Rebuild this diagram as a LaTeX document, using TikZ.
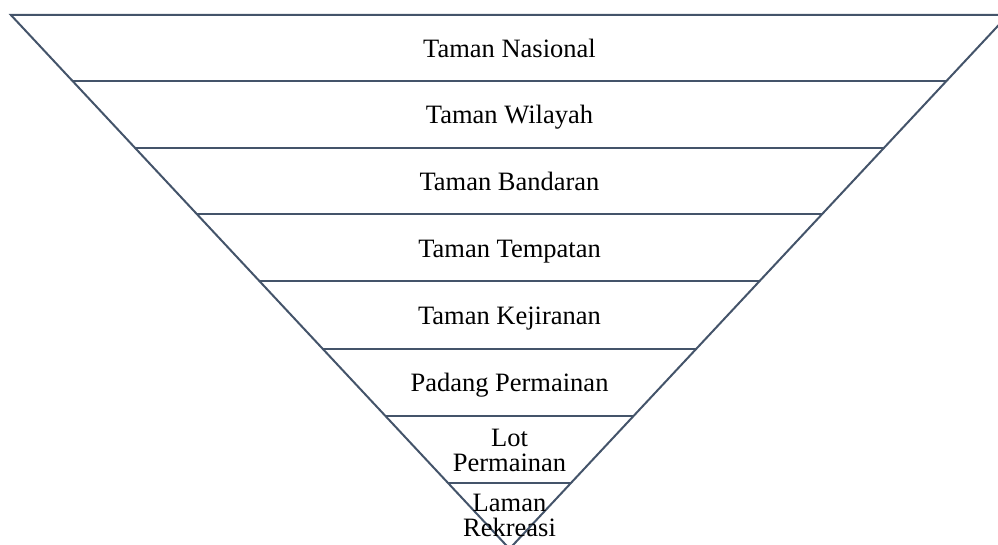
\documentclass[tikz,border=0pt]{standalone}
\usepackage{fontspec}
\setmainfont{Liberation Serif}
\definecolor{tierGrey}{RGB}{68, 84, 106}

\begin{document}
\begin{tikzpicture}[x=0.5pt, y=-0.5pt,
    tierline/.style={draw=tierGrey, line width=1pt},
    tierlabel/.style={font=\fontsize{13.25}{12.5}\selectfont, align=center, inner sep=0pt, anchor=base}]
  \useasboundingbox (0,0) rectangle (998,545);
  \clip (0,0) rectangle (998,545);
  % outer funnel, apex just below the page edge
  \draw[tierline, line join=miter] (10.9,15) -- (1008.1,15) -- (509.5,548.8) -- cycle;
  % tier separators: half width = (548.8 - y) * 0.934
  \foreach \y in {81,148,214,281,349,416,483}
    \draw[tierline] ({509.5-(548.8-\y)*0.934},\y) -- ({509.5+(548.8-\y)*0.934},\y);
  % labels, placed on their (last) baselines
  \node[tierlabel] (nasional) at (509.5,58) {Taman Nasional};
  \node[tierlabel] (wilayah) at (509.5,124) {Taman Wilayah};
  \node[tierlabel] (bandaran) at (509.5,190.8) {Taman Bandaran};
  \node[tierlabel] (tempatan) at (509.5,257.5) {Taman Tempatan};
  \node[tierlabel] (kejiranan) at (509.5,324.5) {Taman Kejiranan};
  \node[tierlabel] (padang) at (509.5,391.5) {Padang Permainan};
  \node[tierlabel] (lot) at (509.5,472) {Lot\\Permainan};
  \node[tierlabel] (laman) at (509.5,537) {Laman\\Rekreasi};
\end{tikzpicture}
\end{document}
